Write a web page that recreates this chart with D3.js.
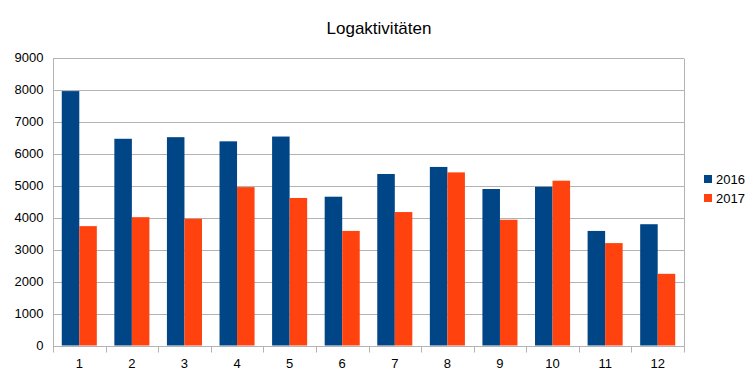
<!DOCTYPE html>
<html><head><meta charset="utf-8">
<script src="https://cdn.jsdelivr.net/npm/d3@7"></script>
<style>body{margin:0;background:#fff}svg{display:block}</style>
</head><body>
<svg id="c" width="756" height="378"></svg>
<script>
const categories = ["1","2","3","4","5","6","7","8","9","10","11","12"];
const seriesNames = ["2016","2017"];
const values2016 = [7950, 6460, 6510, 6380, 6530, 4650, 5360, 5580, 4890, 4960, 3580, 3790];
const values2017 = [3730, 4010, 3960, 4950, 4610, 3580, 4170, 5410, 3930, 5150, 3200, 2240];
const yTicks = [0,1000,2000,3000,4000,5000,6000,7000,8000,9000];
const colors = ["#004586", "#ff420e"];
const title = "Logaktivitäten";

const svg = d3.select("#c");
const font = "Liberation Sans, Arial, sans-serif";
const m = {left:53, right:684, top:57.5, bottom:345.5};

const x = d3.scaleBand().domain(categories).range([m.left, m.right]).paddingInner(1/3).paddingOuter(1/6);
const xs = d3.scaleBand().domain(seriesNames).range([0, x.bandwidth()]);
const y = d3.scaleLinear().domain([0, 9000]).range([m.bottom, m.top]);

// gridlines
svg.append("g").selectAll("line").data(yTicks).join("line")
  .attr("x1", m.left).attr("x2", m.right)
  .attr("y1", d => Math.round(y(d)) + 0.5).attr("y2", d => Math.round(y(d)) + 0.5)
  .attr("stroke", "#b3b3b3").attr("stroke-width", 1);
// right border
svg.append("line").attr("x1", m.right + 0.5).attr("x2", m.right + 0.5)
  .attr("y1", Math.round(y(9000)) + 0.5).attr("y2", Math.round(y(0)) + 0.5)
  .attr("stroke", "#b3b3b3");

// bars
const data = [values2016, values2017];
data.forEach((vals, si) => {
  svg.append("g").selectAll("rect").data(vals).join("rect")
    .attr("x", (d, i) => x(categories[i]) + xs(seriesNames[si]))
    .attr("width", xs.bandwidth())
    .attr("y", d => y(d))
    .attr("height", d => y(0) - y(d))
    .attr("fill", colors[si]);
});

// y axis
const yAxis = d3.axisLeft(y).tickValues(yTicks).tickSize(0).tickPadding(10).tickFormat(d3.format("d"));
const gy = svg.append("g").attr("transform", `translate(${m.left + 0.5},0)`).call(yAxis);
gy.select(".domain").attr("stroke", "#b3b3b3").attr("d", `M0,${Math.round(y(9000))+0.5}V${Math.round(y(0))+0.5}`);
gy.selectAll("text").attr("font-family", font).attr("font-size", 13).attr("fill", "#000");

// x axis
const gx = svg.append("g").attr("transform", `translate(0,${Math.round(y(0)) + 0.5})`);
gx.append("line").attr("x1", m.left).attr("x2", m.right + 0.5).attr("stroke", "#b3b3b3");
const bounds = categories.map(c => x(c) - x.step() * x.paddingInner() / 2);
bounds.push(m.right);
gx.selectAll("line.t").data(bounds).join("line").attr("class", "t")
  .attr("x1", d => Math.round(d) + 0.5).attr("x2", d => Math.round(d) + 0.5)
  .attr("y1", 0).attr("y2", 6).attr("stroke", "#b3b3b3");
gx.selectAll("text").data(categories).join("text")
  .attr("x", d => x(d) + x.bandwidth() / 2).attr("y", 21)
  .attr("text-anchor", "middle").attr("font-family", font).attr("font-size", 13).attr("fill", "#000")
  .text(d => d);

// title
svg.append("text").attr("x", 379).attr("y", 34).attr("text-anchor", "middle")
  .attr("font-family", font).attr("font-size", 17).attr("fill", "#000").text(title);

// legend
const lg = svg.append("g");
seriesNames.forEach((s, i) => {
  lg.append("rect").attr("x", 704).attr("y", 175 + i * 19).attr("width", 8).attr("height", 8).attr("fill", colors[i]);
  lg.append("text").attr("x", 716).attr("y", 184 + i * 19).attr("font-family", font).attr("font-size", 13)
    .attr("fill", "#000").text(s);
});
</script>
</body></html>
